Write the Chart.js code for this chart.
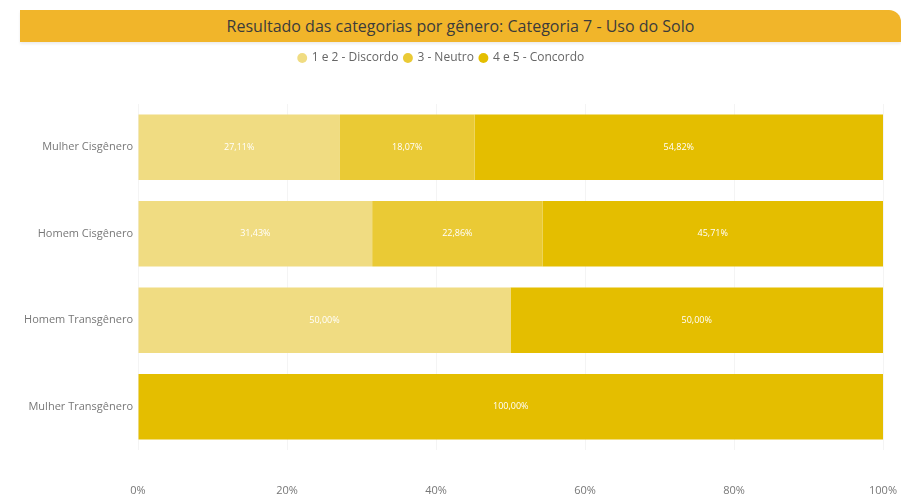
<!DOCTYPE html>
<html>
<head>
<meta charset="utf-8">
<script src="https://cdn.jsdelivr.net/npm/chart.js@4"></script>
<style>
    body { margin: 0; background: #fff; width: 901px; height: 496px; overflow: hidden; font-family: "Open Sans", sans-serif; }
    .title-bar {
        position: absolute; left: 20px; top: 10px; width: 881px; height: 32px;
        background: #F1B52A; border-top-right-radius: 12px;
        box-shadow: 0 2px 3px rgba(0,0,0,0.08);
        color: #3b3b3b; font-size: 16px; text-align: center; line-height: 32px;
    }
    .chart-box { position: absolute; left: 0; top: 44px; width: 901px; height: 452px; }
</style>
</head>
<body>
<div class="title-bar">Resultado das categorias por gênero: Categoria 7 - Uso do Solo</div>
<div class="chart-box"><canvas id="chart"></canvas></div>
<script>
// Chart data
const categories = ['Mulher Cisgênero', 'Homem Cisgênero', 'Homem Transgênero', 'Mulher Transgênero'];
const discordo = [27.11, 31.43, 50.00, 0];
const neutro = [18.07, 22.86, 0, 0];
const concordo = [54.82, 45.71, 50.00, 100.00];
const seriesNames = ['1 e 2 - Discordo', '3 - Neutro', '4 e 5 - Concordo'];
const xTicks = [0, 20, 40, 60, 80, 100];

// white % labels inside each bar piece
const barLabels = {
    id: 'barLabels',
    afterDatasetsDraw(chart) {
        const ctx = chart.ctx;
        ctx.save();
        ctx.fillStyle = '#ffffff';
        ctx.font = '9px "Open Sans"';
        ctx.textAlign = 'center';
        ctx.textBaseline = 'middle';
        chart.data.datasets.forEach((ds, d) => {
            const meta = chart.getDatasetMeta(d);
            meta.data.forEach((bar, i) => {
                const v = ds.data[i];
                if (!v) return;
                const txt = v.toFixed(2).replace('.', ',') + '%';
                ctx.fillText(txt, (bar.x + bar.base) / 2, bar.y);
            });
        });
        ctx.restore();
    }
};

// extra room under the legend
const legendGap = {
    id: 'legendGap',
    beforeInit(chart) {
        const fit = chart.legend.fit;
        chart.legend.fit = function () {
            fit.bind(chart.legend)();
            this.height += 30;
        };
    }
};

const ctx = document.getElementById('chart').getContext('2d');
new Chart(ctx, {
    type: 'bar',
    data: {
        labels: categories,
        datasets: [
            { label: seriesNames[0], data: discordo, backgroundColor: '#F0DC82' },
            { label: seriesNames[1], data: neutro, backgroundColor: '#EACA35' },
            { label: seriesNames[2], data: concordo, backgroundColor: '#E4BE00' }
        ]
    },
    options: {
        indexAxis: 'y',
        responsive: true,
        maintainAspectRatio: false,
        animation: false,
        datasets: { bar: { barPercentage: 0.76, categoryPercentage: 1 } },
        layout: { padding: { left: 0, right: 18, top: 2, bottom: 0 } },
        plugins: {
            legend: {
                position: 'top',
                labels: {
                    usePointStyle: true,
                    pointStyle: 'circle',
                    boxWidth: 7,
                    boxHeight: 7,
                    padding: 6,
                    color: '#666',
                    font: { family: 'Open Sans', size: 12 }
                }
            },
            tooltip: { enabled: false }
        },
        scales: {
            x: {
                stacked: true,
                min: 0,
                max: 100,
                afterBuildTicks(axis) { axis.ticks = xTicks.map(v => ({ value: v })); },
                afterFit(axis) { axis.paddingLeft = 0; axis.paddingRight = 0; axis.height = 46; },
                ticks: {
                    callback: v => v + '%',
                    color: '#777',
                    padding: 34,
                    maxRotation: 0,
                    font: { family: 'Open Sans', size: 11 }
                },
                grid: { color: '#f4f4f4', drawTicks: false },
                border: { display: false }
            },
            y: {
                stacked: true,
                afterFit(axis) { axis.width = 138; },
                ticks: {
                    color: '#777',
                    padding: 5,
                    font: { family: 'Open Sans', size: 11 }
                },
                grid: { display: false, drawTicks: false },
                border: { display: false }
            }
        }
    },
    plugins: [barLabels, legendGap]
});
</script>
</body>
</html>
